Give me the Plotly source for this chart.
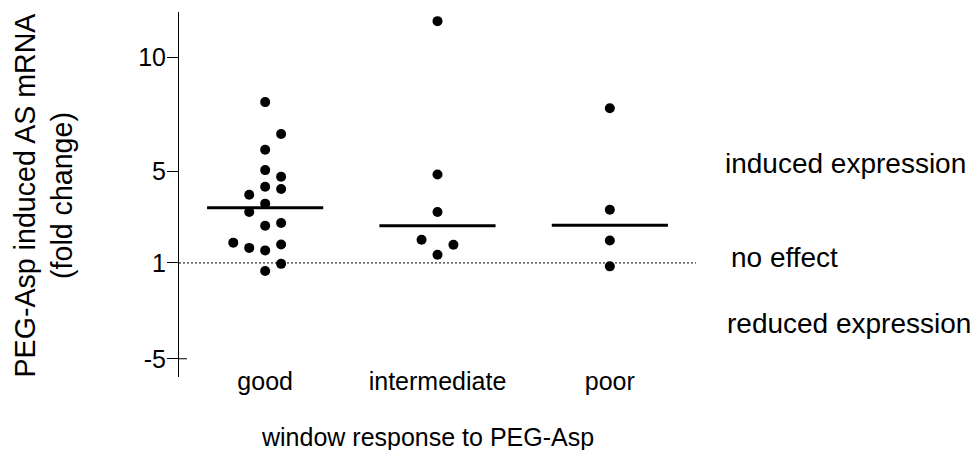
import numpy as np
import plotly.graph_objects as go

# Fold change of AS mRNA after PEG-Asp, grouped by window response
categories = ["good", "intermediate", "poor"]
good = [8.05, 6.65, 5.96, 5.07, 4.78, 4.34, 4.24, 3.99, 3.60, 3.23,
        2.75, 2.63, 1.89, 1.81, 1.66, 1.55, 0.96, 0.65]
intermediate = [11.60, 4.88, 3.23, 2.02, 1.80, 1.36]
poor = [7.78, 3.33, 1.98, 0.85]

# swarm column of each point, in marker widths from the group centre
good_cols = [0, 1, 0, 0, 1, 0, 1, -1, 0, -1, 1, 0, -2, 1, -1, 0, 1, 0]
intermediate_cols = [0, 0, 0, -1, 1, 0]
poor_cols = [0, 0, 0, 0]

y_tickvals = [-3.2, 1, 5, 10]
y_ticktext = ["-5", "1", "5", "10"]

groups = [good, intermediate, poor]
cols = [good_cols, intermediate_cols, poor_cols]

FONT = "Arial, Liberation Sans, sans-serif"
COL_W = 0.0925      # horizontal step between swarm columns (x units)
HALF_BAR = 0.337    # half width of the median bar

# page geometry
W, H = 979, 450
ML, MR, MT, MB = 179, 283, 12, 0
plot_w = W - ML - MR
plot_h = H - MT - MB
y_dom0 = (H - 377) / plot_h


def px_x(px):
    return (px - ML) / plot_w


def px_y(py):
    return (H - MB - py) / plot_h


fig = go.Figure()

xs, ys = [], []
for i, (vals, cc) in enumerate(zip(groups, cols)):
    xs += [i + c * COL_W for c in cc]
    ys += list(vals)
fig.add_trace(go.Scatter(
    x=xs, y=ys, mode="markers",
    marker=dict(size=10, color="black"),
    showlegend=False, hoverinfo="y",
))

# median bars
mx, my = [], []
for i, vals in enumerate(groups):
    m = float(np.median(vals))
    mx += [i - HALF_BAR, i + HALF_BAR, None]
    my += [m, m, None]
fig.add_trace(go.Scatter(
    x=mx, y=my, mode="lines",
    line=dict(color="black", width=3),
    showlegend=False, hoverinfo="skip",
))

# "no effect" reference line at fold change 1
fig.add_shape(type="line", xref="paper", yref="y",
              x0=0, x1=1, y0=1, y1=1,
              line=dict(color="black", width=1, dash="2px,2px"))
# the bottom tick crosses the axis
fig.add_shape(type="line", xref="paper", yref="y",
              x0=0, x1=8 / plot_w, y0=y_tickvals[0], y1=y_tickvals[0],
              line=dict(color="black", width=1))

side_labels = [
    ("induced expression", 723, 163.6),
    ("no effect", 729, 257.0),
    ("reduced expression", 725, 323.6),
]
for txt, lx, cy in side_labels:
    fig.add_annotation(text=txt, xref="paper", yref="paper",
                       x=px_x(lx), y=px_y(cy), xanchor="left", yanchor="middle",
                       showarrow=False, font=dict(family=FONT, size=28, color="black"))

fig.add_annotation(text="window response to PEG-Asp", xref="paper", yref="paper",
                   x=px_x(427), y=px_y(436.7), xanchor="center", yanchor="middle",
                   showarrow=False, font=dict(family=FONT, size=25, color="black"))

fig.add_annotation(text="PEG-Asp induced AS mRNA<br>(fold change)",
                   xref="paper", yref="paper", textangle=-90,
                   x=px_x(43), y=px_y(195.5), xanchor="center", yanchor="middle",
                   showarrow=False, font=dict(family=FONT, size=28.6, color="black"))

fig.update_layout(
    width=W, height=H,
    margin=dict(l=ML, r=MR, t=MT, b=MB, pad=0),
    paper_bgcolor="white", plot_bgcolor="white",
    font=dict(family=FONT, color="black"),
    xaxis=dict(
        range=[-0.5, 2.5], tickvals=[0, 1, 2], ticktext=categories,
        showline=False, ticks="", showgrid=False, zeroline=False,
        tickfont=dict(size=25, family=FONT, color="black"),
        anchor="free", position=px_y(364),
    ),
    yaxis=dict(
        range=[-4, 12], domain=[y_dom0, 1],
        tickvals=y_tickvals, ticktext=y_ticktext,
        showline=True, linecolor="black", linewidth=1,
        ticks="outside", ticklen=11, tickwidth=1, tickcolor="black",
        ticklabelstandoff=-4,
        showgrid=False, zeroline=False,
        tickfont=dict(size=25, family=FONT, color="black"),
    ),
)

fig.write_html("out.html")
